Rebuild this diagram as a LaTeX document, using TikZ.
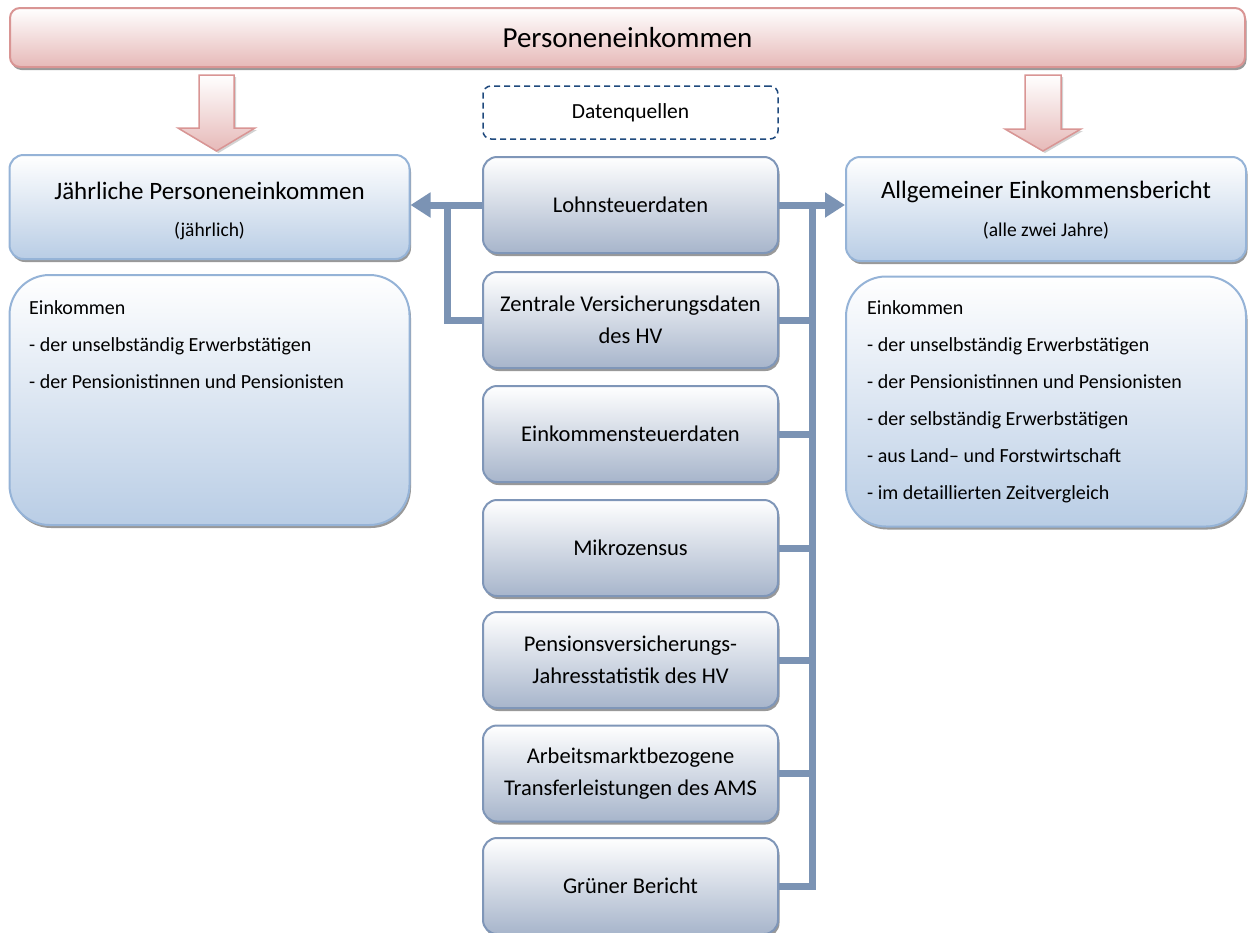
\documentclass[tikz,border=0pt]{standalone}
\usepackage{fontspec}
\setmainfont{Carlito}
\usetikzlibrary{arrows.meta,shadows}
\definecolor{pinkB}{HTML}{D99594}
\definecolor{pinkF}{HTML}{E6B9B8}
\definecolor{sideB}{HTML}{95B3D7}
\definecolor{sideF}{HTML}{B9CDE5}
\definecolor{midB}{HTML}{7F96B8}
\definecolor{midF}{HTML}{A7B5CB}
\definecolor{connC}{HTML}{7B93B4}
\definecolor{dashC}{HTML}{1F497D}
\tikzset{
  shad/.style={drop shadow={shadow xshift=1.5pt,shadow yshift=-3pt,fill=black!40,opacity=1}},
  topbar/.style={draw=pinkB,line width=2pt,rounded corners=10pt,top color=white,bottom color=pinkF,shad,
    minimum width=1235pt,minimum height=59pt,font=\fontsize{29}{32}\selectfont},
  pinkarrow/.style={draw=pinkB,line width=1.5pt,top color=white,bottom color=pinkF,
    drop shadow={shadow xshift=2pt,shadow yshift=-2pt,fill=black!35}},
  sidetop/.style={draw=sideB,line width=2pt,rounded corners=14pt,top color=white,bottom color=sideF,shad,
    minimum width=400pt,minimum height=104pt,align=center},
  sidebot/.style={draw=sideB,line width=2pt,rounded corners=40pt,top color=white,bottom color=sideF,shad,
    minimum width=400pt,minimum height=250pt},
  midbox/.style={draw=midB,line width=2pt,rounded corners=14pt,top color=white,bottom color=midF,shad,
    minimum width=295pt,minimum height=96pt,align=center,font=\fontsize{22.5}{32}\selectfont},
  dashbox/.style={draw=dashC,line width=1.5pt,dashed,dash pattern=on 6pt off 4pt,rounded corners=8pt,
    minimum width=295pt,minimum height=53pt,font=\fontsize{21.5}{24}\selectfont},
  titletext/.style={font=\fontsize{25}{28}\selectfont},
  subtext/.style={font=\fontsize{19.5}{22}\selectfont},
  listtext/.style={anchor=north west,align=left,inner sep=0pt,font=\fontsize{20}{37}\selectfont},
  conn/.style={draw=connC,line width=7pt},
  tip/.style={-{Triangle[width=24pt,length=20pt]}}
}
\begin{document}
\begin{tikzpicture}[x=1pt,y=-1pt]
\useasboundingbox (0,0) rectangle (1248,932);
\node[topbar] (top) at (627.5,37.5) {Personeneinkommen};
% pink block arrows
\draw[pinkarrow] (199,75) -- (234,75) -- (234,128) -- (255,128) -- (216.5,151) -- (178,128) -- (199,128) -- cycle;
\draw[pinkarrow] (1025,75) -- (1061,75) -- (1061,129) -- (1081,129) -- (1043,151) -- (1005,129) -- (1025,129) -- cycle;
\node[dashbox] (dq) at (630.5,112.5) {Datenquellen};
% side boxes
\node[sidetop] (L1) at (209.5,207) {};
\node[titletext] (L1a) at (209.5,191) {Jährliche Personeneinkommen};
\node[subtext] (L1b) at (209.5,231) {(jährlich)};
\node[sidebot] (L2) at (209.5,400) {};
\node[listtext] (L2t) at (29,300) {Einkommen\\- der unselbständig Erwerbstätigen\\- der Pensionistinnen und Pensionisten};
\node[sidetop] (R1) at (1046,209) {};
\node[titletext] (R1a) at (1046,192) {Allgemeiner Einkommensbericht};
\node[subtext] (R1b) at (1046,231) {(alle zwei Jahre)};
\node[sidebot] (R2) at (1046,401.5) {};
\node[listtext] (R2t) at (867,300) {Einkommen\\- der unselbständig Erwerbstätigen\\- der Pensionistinnen und Pensionisten\\- der selbständig Erwerbstätigen\\- aus Land-- und Forstwirtschaft\\- im detaillierten Zeitvergleich};
\coordinate (lb) at (447,205);
\coordinate (rb) at (812,205);
% middle boxes
\node[midbox] (m1) at (630.5,205) {Lohnsteuerdaten};
\node[midbox] (m2) at (630.5,320) {Zentrale Versicherungsdaten\\des HV};
\node[midbox] (m3) at (630.5,434) {Einkommensteuerdaten};
\node[midbox] (m4) at (630.5,548) {Mikrozensus};
\node[midbox] (m5) at (630.5,660) {Pensionsversicherungs-\\Jahresstatistik des HV};
\node[midbox] (m6) at (630.5,773.5) {Arbeitsmarktbezogene\\Transferleistungen des AMS};
\node[midbox] (m7) at (630.5,886) {Grüner Bericht};
% left
\draw[conn,tip] (m1.west) -- (m1.west -| L1.east);
\draw[conn] (m2.west) -| (lb);
% right
\draw[conn,tip] (m1.east) -- (m1.east -| R1.west);
\draw[conn] (m7.east) -| (rb);
\draw[conn] (m2.east) -- (m2.east -| rb);
\draw[conn] (m3.east) -- (m3.east -| rb);
\draw[conn] (m4.east) -- (m4.east -| rb);
\draw[conn] (m5.east) -- (m5.east -| rb);
\draw[conn] (m6.east) -- (m6.east -| rb);
\end{tikzpicture}
\end{document}
